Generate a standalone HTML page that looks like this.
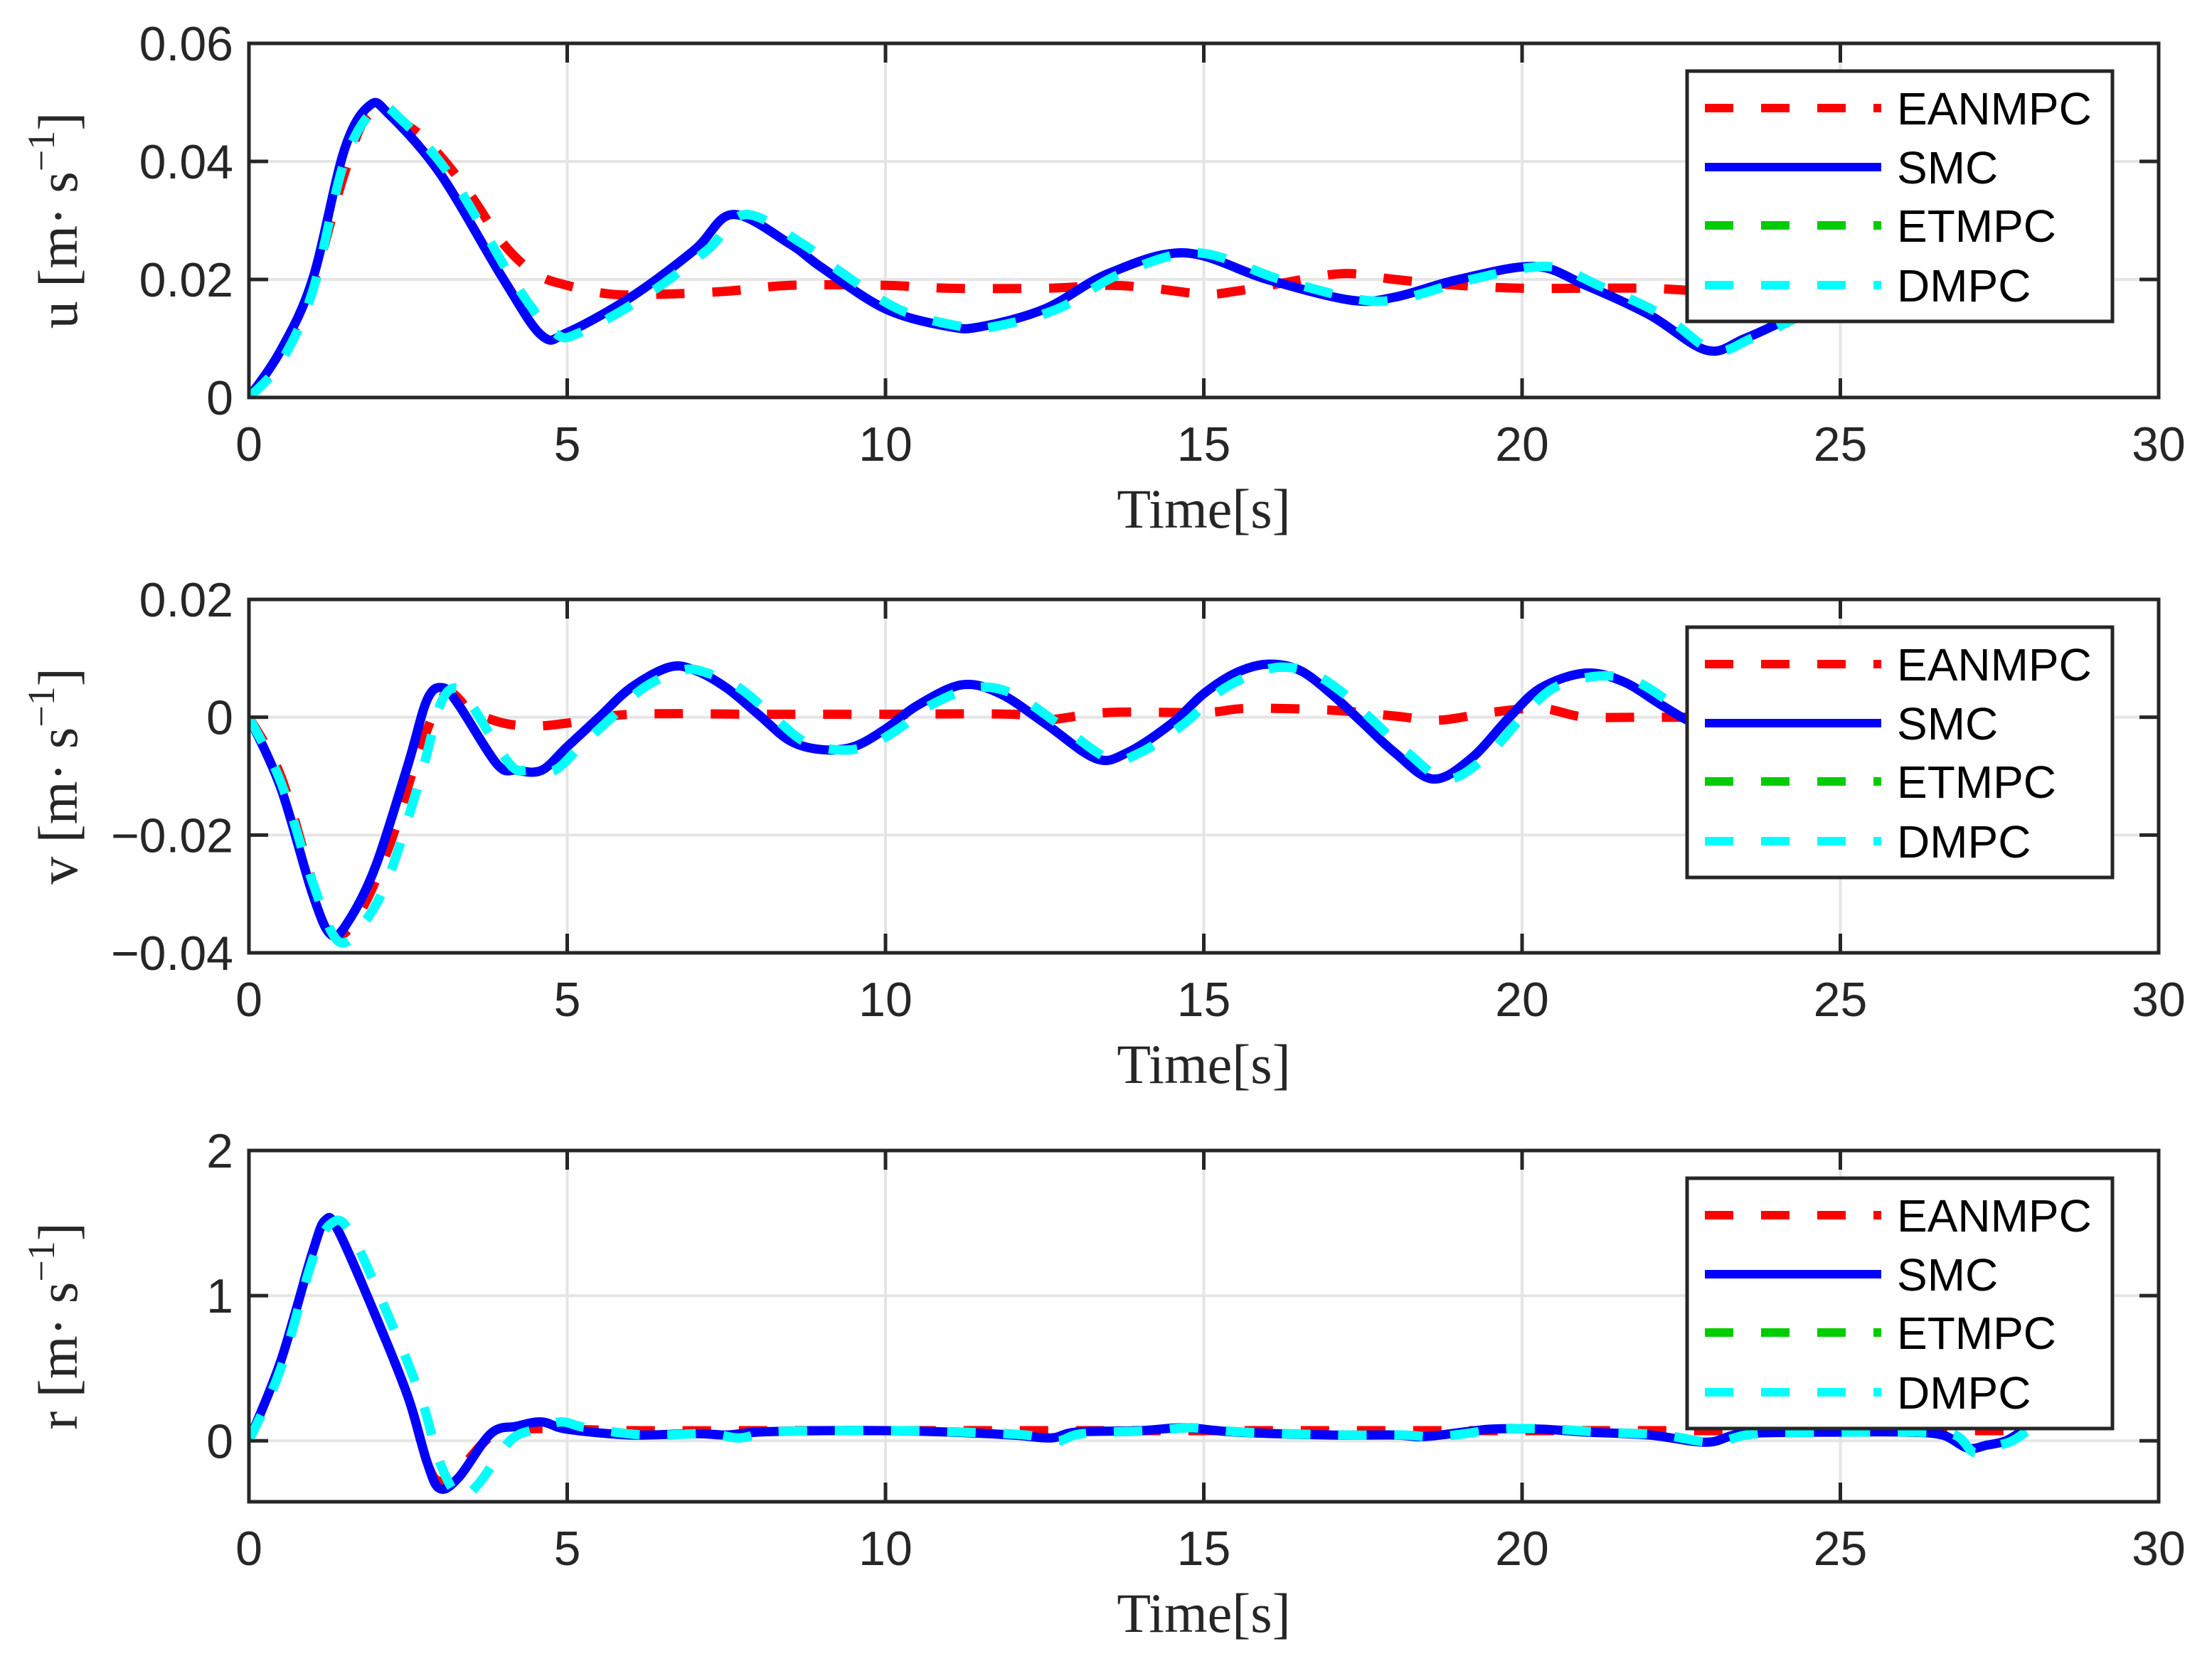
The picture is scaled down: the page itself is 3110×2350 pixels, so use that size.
<!DOCTYPE html>
<html><head><meta charset="utf-8"><style>
html,body{margin:0;padding:0;background:#fff;}
svg{display:block;}
</style></head><body>
<svg id="fig" width="3110" height="2350" viewBox="0 0 3110 2350" xmlns="http://www.w3.org/2000/svg"></svg>
<script>
// ---------- data ----------
const uT_smc = [0,0.5,1,1.5,1.9,2.2,3,4,4.6,5,6,7,7.6,8.5,9,10,11,11.5,12.5,13.5,14.7,16,17.3,18,19,20.2,21,22,22.9,23.5,24.3,25,26,27,28];
const uV_smc = [0,0.008,0.02,0.042,0.0495,0.048,0.038,0.02,0.0105,0.011,0.017,0.025,0.031,0.026,0.022,0.015,0.012,0.012,0.015,0.021,0.0245,0.02,0.0165,0.017,0.02,0.0222,0.019,0.014,0.008,0.01,0.014,0.018,0.022,0.02,0.018];
const uT_ean = [0,0.5,1,1.5,1.9,2.5,3,3.5,4,4.5,5,5.7,6.5,7.5,8.5,10,11,12.5,13.5,14.2,15,15.5,16.3,17.2,18,19,20,21,22,23,24,26,28];
const uV_ean = [0,0.007,0.019,0.038,0.048,0.046,0.041,0.034,0.026,0.021,0.019,0.0175,0.0175,0.018,0.019,0.019,0.0185,0.0185,0.019,0.0185,0.0175,0.018,0.0195,0.021,0.02,0.019,0.0185,0.0185,0.0185,0.018,0.0185,0.0185,0.0185];
const uT_dm = [0,0.5,1,1.5,2.0,2.4,3.2,4.2,4.8,5.2,6.2,7.2,7.8,8.7,9.2,10.2,11.2,11.7,12.7,13.7,14.9,16.2,17.5,18.2,19.2,20.4,21.2,22.2,23.0,23.6,24.4,25,26,27,28];
const uV_dm = [0,0.006,0.018,0.04,0.049,0.047,0.037,0.019,0.011,0.011,0.017,0.025,0.031,0.026,0.022,0.015,0.012,0.012,0.015,0.021,0.0245,0.02,0.0165,0.017,0.02,0.0222,0.019,0.014,0.008,0.01,0.014,0.018,0.022,0.02,0.018];

const vT_smc = [0,0.5,1,1.3,1.6,2,2.5,2.8,3.05,3.3,3.9,4.2,4.6,5,5.5,6,6.6,7,7.5,8,8.5,9,9.5,10,10.5,11.2,11.8,12.5,13.3,13.8,14.5,15,15.5,16,16.5,17,17.5,18,18.6,19.2,19.8,20.3,21,21.6,22.2,22.7,23.5,24.5,25.5,26.5,28];
const vV_smc = [0,-0.012,-0.03,-0.037,-0.034,-0.025,-0.008,0.003,0.005,0.002,-0.008,-0.009,-0.009,-0.005,0,0.005,0.0085,0.008,0.005,0.0005,-0.004,-0.0055,-0.005,-0.002,0.002,0.0055,0.004,-0.001,-0.007,-0.006,-0.001,0.004,0.0075,0.009,0.008,0.004,-0.001,-0.006,-0.0105,-0.007,0,0.005,0.0075,0.006,0.002,-0.001,-0.004,-0.002,0.003,0.002,0];
const vT_ean = [0,0.5,1,1.3,1.7,2.2,2.7,3.1,3.5,4,4.5,5,6,8,10,12,12.5,13.5,15,15.7,17,18,18.7,19.5,20.3,21,22,28];
const vV_ean = [0,-0.01,-0.028,-0.037,-0.034,-0.022,-0.005,0.004,0.001,-0.001,-0.0015,-0.001,0.0005,0.0005,0.0005,0.0005,-0.0005,0.0008,0.0008,0.0015,0.0012,0.0002,-0.0005,0.0008,0.0015,0,0,0];
const vT_dm = [0,0.5,1,1.4,1.8,2.2,2.7,3.0,3.25,3.5,4.1,4.4,4.8,5.2,5.7,6.2,6.8,7.2,7.7,8.2,8.7,9.2,9.7,10.2,10.7,11.4,12.0,12.7,13.5,14.0,14.7,15.2,15.7,16.2,16.7,17.2,17.7,18.2,18.8,19.4,20.0,20.5,21.2,21.8,22.4,22.9,23.7,24.7,25.7,26.7,28];
const vV_dm = [0,-0.011,-0.028,-0.038,-0.035,-0.027,-0.01,0.002,0.005,0.002,-0.008,-0.009,-0.009,-0.005,0,0.005,0.008,0.0075,0.005,0.0005,-0.004,-0.0055,-0.005,-0.002,0.002,0.005,0.004,-0.001,-0.007,-0.006,-0.001,0.004,0.007,0.0085,0.0075,0.004,-0.001,-0.006,-0.0105,-0.007,0,0.005,0.007,0.006,0.002,-0.001,-0.004,-0.002,0.003,0.002,0];

const rT_smc = [0,0.5,1,1.2,1.4,2,2.5,2.8,3,3.3,3.8,4.2,4.6,5,6,7,7.5,8,9,10,11,12,12.6,13,14,14.7,15.5,17,18,18.5,19.5,20.3,21,22,22.9,23.5,25,26,26.6,27,27.3,27.6,27.9];
const rV_smc = [0,0.55,1.3,1.52,1.45,0.85,0.3,-0.15,-0.33,-0.25,0.05,0.1,0.13,0.08,0.04,0.05,0.04,0.06,0.07,0.07,0.06,0.04,0.02,0.06,0.07,0.09,0.06,0.04,0.04,0.03,0.08,0.08,0.06,0.04,-0.01,0.05,0.06,0.06,0.04,-0.05,-0.03,0,0.08];
const rT_ean = [0,0.5,1,1.2,1.4,2,2.5,2.8,3,3.3,3.8,4.3,5,6,8,10,12,14,16,18,20,22,24,26,27,27.9];
const rV_ean = [0,0.55,1.3,1.5,1.45,0.85,0.3,-0.15,-0.28,-0.2,0.03,0.08,0.08,0.07,0.07,0.07,0.07,0.07,0.07,0.07,0.07,0.07,0.07,0.07,0.07,0.07];
const rT_dm = [0,0.5,1,1.3,1.6,2.2,2.7,3.0,3.3,3.6,4.1,4.5,4.9,5.3,6.2,7.2,7.7,8.2,9.2,10.2,11.2,12.2,12.7,13.1,14.2,14.8,15.6,17.1,18.1,18.7,19.7,20.5,21.2,22.2,23.0,23.7,25.2,26.2,26.8,27.1,27.4,27.7,28];
const rV_dm = [0,0.5,1.25,1.5,1.43,0.85,0.3,-0.15,-0.38,-0.3,0.0,0.08,0.13,0.09,0.04,0.05,0.02,0.06,0.07,0.07,0.06,0.04,0.0,0.05,0.07,0.09,0.06,0.04,0.04,0.03,0.08,0.08,0.06,0.04,-0.01,0.05,0.06,0.06,0.04,-0.08,-0.04,0,0.09];

const xTicks = [0,5,10,15,20,25,30];
const uTicks = [0,0.02,0.04,0.06];
const vTicks = [-0.04,-0.02,0,0.02];
const rTicks = [0,1,2];
const legendNames = ["EANMPC","SMC","ETMPC","DMPC"];

// ---------- drawing ----------
const NS = "http://www.w3.org/2000/svg";
const svg = document.getElementById('fig');
const X0 = 350, X1 = 3035;
function mk(tag, attrs, parent){ const e = document.createElementNS(NS, tag); for (const k in attrs) e.setAttribute(k, attrs[k]); (parent||svg).appendChild(e); return e; }
function fmt(v){ return (v<0?"\u2212":"") + String(Math.abs(v)); }
function smoothPath(P){
  let d = "M"+P[0][0].toFixed(1)+","+P[0][1].toFixed(1);
  for (let i=0;i<P.length-1;i++){
    const p0=P[Math.max(0,i-1)], p1=P[i], p2=P[i+1], p3=P[Math.min(P.length-1,i+2)];
    const c1x=p1[0]+(p2[0]-p0[0])/6, c1y=p1[1]+(p2[1]-p0[1])/6;
    const c2x=p2[0]-(p3[0]-p1[0])/6, c2y=p2[1]-(p3[1]-p1[1])/6;
    d += " C"+c1x.toFixed(1)+","+c1y.toFixed(1)+" "+c2x.toFixed(1)+","+c2y.toFixed(1)+" "+p2[0].toFixed(1)+","+p2[1].toFixed(1);
  }
  return d;
}

const panels = [
  {name:"u", top:61, bot:559, ymin:0, ymax:0.06, ticks:uTicks,
   s:[[uT_ean,uV_ean],[uT_smc,uV_smc],[uT_dm,uV_dm],[uT_dm,uV_dm]]},
  {name:"v", top:843, bot:1340, ymin:-0.04, ymax:0.02, ticks:vTicks,
   s:[[vT_ean,vV_ean],[vT_smc,vV_smc],[vT_dm,vV_dm],[vT_dm,vV_dm]]},
  {name:"r", top:1618, bot:2112, ymin:-0.42, ymax:2, ticks:rTicks,
   s:[[rT_ean,rV_ean],[rT_smc,rV_smc],[rT_dm,rV_dm],[rT_dm,rV_dm]]}
];
const colors = ["#ff0000","#0000ff","#00cc00","#00ffff"];
const dashes = ["40 39","none","40 39","40 39"];
const sNames = ["eanmpc","smc","etmpc","dmpc"];

panels.forEach(p=>{
  const g = mk('g',{});
  
  
  const sx = t => X0 + (t-0)/(30-0)*(X1-X0);
  const sy = v => p.bot - (v-p.ymin)/(p.ymax-p.ymin)*(p.bot-p.top);
  xTicks.forEach(t=>{
    const l = mk('line',{x1:sx(t),x2:sx(t),y1:p.top,y2:p.bot,stroke:"#e5e5e5","stroke-width":4},g);
    
    
  });
  p.ticks.forEach(v=>{
    const l = mk('line',{x1:X0,x2:X1,y1:sy(v),y2:sy(v),stroke:"#e5e5e5","stroke-width":4},g);
    
    
  });
  const cid = 'clip'+p.name;
  const cp = mk('clipPath',{id:cid},g);
  mk('rect',{x:X0,y:p.top,width:X1-X0,height:p.bot-p.top},cp);
  const sg = mk('g',{'clip-path':'url(#'+cid+')'},g);
  p.s.forEach((s,i)=>{
    const P = s[0].map((t,j)=>[sx(t), sy(s[1][j])]);
    const pl = mk('path',{d:smoothPath(P),fill:"none",stroke:colors[i],"stroke-width":13,"stroke-linejoin":"round","stroke-dasharray":dashes[i]},sg);
    
    
  });
  xTicks.forEach(t=>{
    mk('line',{x1:sx(t),x2:sx(t),y1:p.bot,y2:p.bot-27,stroke:"#262626","stroke-width":5},g);
    mk('line',{x1:sx(t),x2:sx(t),y1:p.top,y2:p.top+27,stroke:"#262626","stroke-width":5},g);
    const tx = mk('text',{x:sx(t),y:p.bot+89,'text-anchor':'middle','font-family':'"Liberation Sans", sans-serif','font-size':68,fill:"#262626"},g);
    tx.textContent = String(t);
    
    
  });
  p.ticks.forEach(v=>{
    mk('line',{x1:X0,x2:X0+27,y1:sy(v),y2:sy(v),stroke:"#262626","stroke-width":5},g);
    mk('line',{x1:X1,x2:X1-27,y1:sy(v),y2:sy(v),stroke:"#262626","stroke-width":5},g);
    const tx = mk('text',{x:X0-22,y:sy(v)+24,'text-anchor':'end','font-family':'"Liberation Sans", sans-serif','font-size':68,fill:"#262626"},g);
    tx.textContent = fmt(v);
    
    
  });
  const ax = mk('rect',{x:X0,y:p.top,width:X1-X0,height:p.bot-p.top,fill:"none",stroke:"#262626","stroke-width":5},g);
  
  
  const xl = mk('text',{x:(X0+X1)/2,y:p.bot+183,'text-anchor':'middle','font-family':'"Liberation Serif", serif','font-size':78,fill:"#262626"},g);
  xl.textContent = "Time[s]";
  
  
  const cy = (p.top+p.bot)/2;
  const yl = mk('text',{x:0,y:0,transform:'translate(108,'+cy+') rotate(-90)','text-anchor':'middle','font-family':'"Liberation Serif", serif','font-size':78,fill:"#262626"},g);
  
  
  const t1 = mk('tspan',{},yl); t1.textContent = p.name+" [m\u00b7 s";
  const t2 = mk('tspan',{dy:-32,'font-size':54},yl); t2.textContent = "\u22121";
  const t3 = mk('tspan',{dy:32},yl); t3.textContent = "]";
  const lg = mk('g',{},g);
  
  
  mk('rect',{x:2372,y:p.top+39,width:598,height:352,fill:"#fff",stroke:"#262626","stroke-width":5},lg);
  const rows = [91,174,256,340];
  legendNames.forEach((n,i)=>{
    const e = mk('g',{},lg);
    
    
    const y = p.top+rows[i];
    mk('line',{x1:2397,x2:2645,y1:y,y2:y,stroke:colors[i],"stroke-width":12,"stroke-dasharray":dashes[i]},e);
    const tx = mk('text',{x:2667,y:y+23,'font-family':'"Liberation Sans", sans-serif','font-size':64,fill:"#000"},e);
    tx.textContent = n;
  });
});
</script>
</body></html>
